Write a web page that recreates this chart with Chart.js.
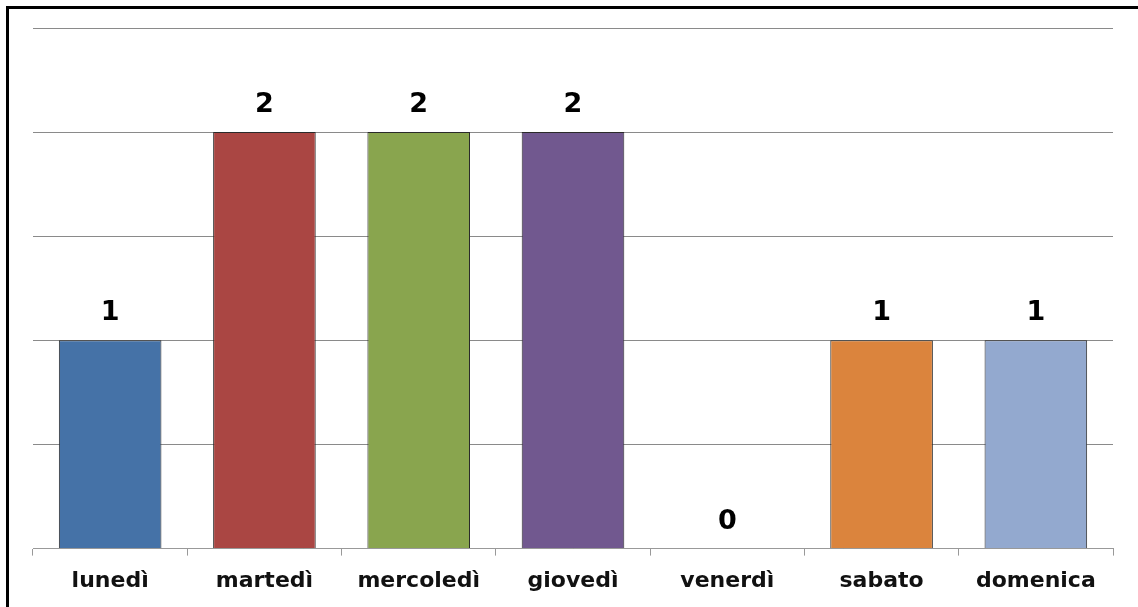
<!DOCTYPE html>
<html>
<head>
<meta charset="utf-8">
<script src="https://cdn.jsdelivr.net/npm/chart.js@4/dist/chart.umd.min.js"></script>
<style>
  html, body { margin: 0; padding: 0; background: #fff; }
  #wrap { width: 1138px; height: 607px; position: relative; }
</style>
</head>
<body>
<div id="wrap"><canvas id="dayChart" width="1138" height="607"></canvas></div>
<script>
const days = ["lunedì", "martedì", "mercoledì", "giovedì", "venerdì", "sabato", "domenica"];
const counts = [1, 2, 2, 2, 0, 1, 1];
const barColors = ["#4572A7", "#AA4643", "#89A54E", "#71588F", "#4572A7", "#DB843D", "#93A9CF"];

// frame line on the left and top, like the original screenshot
const framePlugin = {
  id: "frame",
  afterDraw(chart) {
    const ctx = chart.ctx;
    ctx.save();
    ctx.strokeStyle = "#000";
    ctx.lineWidth = 3;
    ctx.beginPath();
    ctx.moveTo(7.5, chart.height);
    ctx.lineTo(7.5, 7.5);
    ctx.lineTo(chart.width, 7.5);
    ctx.stroke();
    ctx.restore();
  }
};

// value labels above each bar
const valuePlugin = {
  id: "values",
  afterDatasetsDraw(chart) {
    const ctx = chart.ctx;
    const meta = chart.getDatasetMeta(0);
    ctx.save();
    ctx.font = "bold 27px 'DejaVu Sans'";
    ctx.fillStyle = "#000";
    ctx.textAlign = "center";
    ctx.textBaseline = "middle";
    meta.data.forEach((bar, i) => {
      ctx.fillText(String(counts[i]), bar.x, bar.y - 27);
    });
    ctx.restore();
  }
};

new Chart(document.getElementById("dayChart"), {
  type: "bar",
  data: {
    labels: days,
    datasets: [{
      data: counts,
      backgroundColor: barColors,
      borderColor: "#2a2a2a",
      borderWidth: 1,
      barPercentage: 0.665,
      categoryPercentage: 1
    }]
  },
  options: {
    responsive: false,
    animation: false,
    layout: { padding: { left: 33, right: 25, top: 28, bottom: 1 } },
    plugins: { legend: { display: false }, tooltip: { enabled: false } },
    scales: {
      x: {
        grid: { drawOnChartArea: false, drawTicks: true, tickLength: 7, color: "#999" },
        border: { color: "#999", width: 1 },
        ticks: {
          color: "#111",
          padding: 12,
          font: { family: "'DejaVu Sans'", size: 22, weight: "bold" }
        }
      },
      y: {
        min: 0,
        max: 2.5,
        ticks: { display: false, stepSize: 0.5 },
        grid: { drawTicks: false, color: "#8a8a8a" },
        border: { display: false }
      }
    }
  },
  plugins: [framePlugin, valuePlugin]
});
</script>
</body>
</html>
